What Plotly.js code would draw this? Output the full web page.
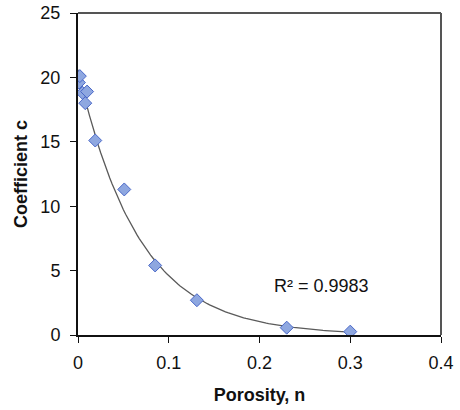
<!DOCTYPE html>
<html>
<head>
<meta charset="utf-8">
<script src="https://cdn.plot.ly/plotly-3.0.1.min.js"></script>
<style>html,body{margin:0;padding:0;background:#fff;}#chart{width:460px;height:410px;}</style>
</head>
<body>
<div id="chart"></div>
<script>
// Data
const porosity = [0.001, 0.002, 0.005, 0.008, 0.010, 0.019, 0.051, 0.085, 0.131, 0.230, 0.300];
const coefficient = [19.6, 20.1, 18.8, 18.0, 18.9, 15.1, 11.3, 5.4, 2.7, 0.57, 0.26];
const xTicks = [0, 0.1, 0.2, 0.3, 0.4];
const xTickLabels = ["0", "0.1", "0.2", "0.3", "0.4"];
const yTicks = [0, 5, 10, 15, 20, 25];
const yTickLabels = ["0", "5", "10", "15", "20", "25"];
const r2Label = "R² = 0.9983";

// Exponential trendline fitted from the data (least squares on ln y), as a spreadsheet does
const n = porosity.length;
const lny = coefficient.map(v => Math.log(v));
const mx = porosity.reduce((a, b) => a + b, 0) / n;
const my = lny.reduce((a, b) => a + b, 0) / n;
let sxy = 0, sxx = 0;
for (let i = 0; i < n; i++) { sxy += (porosity[i] - mx) * (lny[i] - my); sxx += (porosity[i] - mx) ** 2; }
const slope = sxy / sxx, icpt = my - slope * mx;
const xMax = Math.max(...porosity);
const fitX = [], fitY = [];
for (let i = 0; i <= 120; i++) { const x = xMax * i / 120; fitX.push(x); fitY.push(Math.exp(icpt + slope * x)); }

const traces = [
  { x: fitX, y: fitY, mode: 'lines', line: { color: '#5a5a5a', width: 1.3 }, hoverinfo: 'skip', showlegend: false },
  { x: porosity, y: coefficient, mode: 'markers', showlegend: false,
    marker: { symbol: 'diamond', size: 10, color: '#8ea7e0', line: { color: '#4a68c8', width: 1 } } }
];

const font = "Liberation Sans, Arial, sans-serif";
const layout = {
  width: 460, height: 410,
  margin: { l: 78, r: 19, t: 13, b: 75 },
  paper_bgcolor: '#fff', plot_bgcolor: '#fff',
  showlegend: false,
  font: { family: font, size: 18, color: '#111' },
  xaxis: {
    range: [0, 0.4], tickvals: xTicks, ticktext: xTickLabels,
    showgrid: false, zeroline: false, showline: true, linecolor: '#111', linewidth: 2,
    ticks: 'outside', ticklen: 6, tickcolor: '#111', tickwidth: 1, ticklabelstandoff: 4,
    tickfont: { family: font, size: 18, color: '#111' },
    title: { text: '<b>Porosity, n</b>', font: { family: font, size: 18, color: '#111' }, standoff: 17 }
  },
  yaxis: {
    range: [0, 25], tickvals: yTicks, ticktext: yTickLabels,
    showgrid: false, zeroline: false, showline: true, linecolor: '#111', linewidth: 2,
    ticks: 'outside', ticklen: 6, tickcolor: '#111', tickwidth: 1, ticklabelstandoff: 6,
    tickfont: { family: font, size: 18, color: '#111' },
    title: { text: '<b>Coefficient c</b>', font: { family: font, size: 18, color: '#111' }, standoff: 8 }
  },
  shapes: [
    { type: 'line', xref: 'paper', yref: 'paper', x0: 0, x1: 1, y0: 1, y1: 1, line: { color: '#555', width: 2 } },
    { type: 'line', xref: 'paper', yref: 'paper', x0: 1, x1: 1, y0: 0, y1: 1, line: { color: '#555', width: 2 } }
  ],
  annotations: [
    { x: 0.268, y: 3.8, xref: 'x', yref: 'y', text: r2Label, showarrow: false,
      font: { family: font, size: 18, color: '#111' } }
  ]
};

Plotly.newPlot('chart', traces, layout, { displayModeBar: false, staticPlot: true });
</script>
</body>
</html>
